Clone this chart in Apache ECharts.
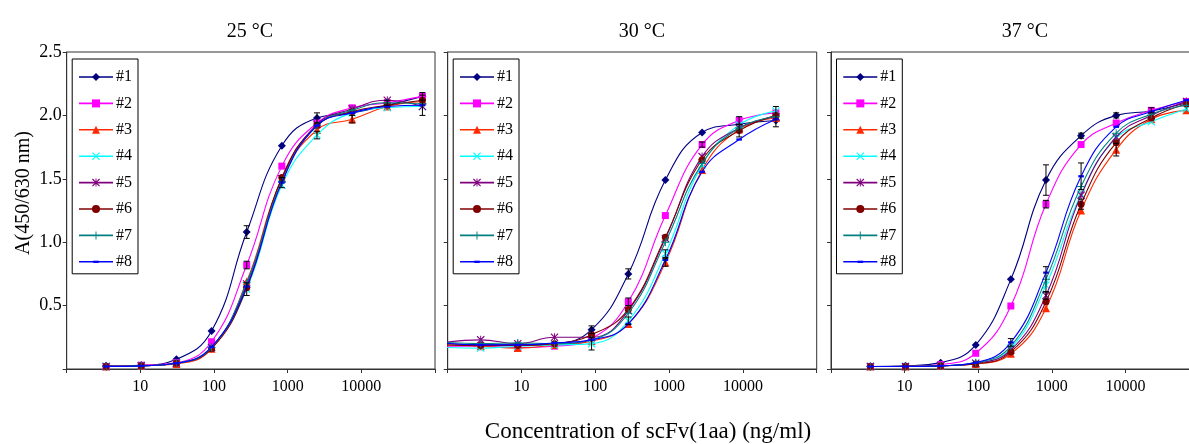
<!DOCTYPE html>
<html>
<head>
<meta charset="utf-8">
<script src="https://cdn.jsdelivr.net/npm/echarts@6/dist/echarts.min.js"></script>
<style>
  html, body { margin: 0; padding: 0; background: #fff; }
  #chart { width: 1189px; height: 444px; }
</style>
</head>
<body>
<div id="chart"></div>
<script>
// ---- data -------------------------------------------------------------
const seriesNames = ['#1', '#2', '#3', '#4', '#5', '#6', '#7', '#8'];
const seriesColors = ['#000080', '#FF00FF', '#FF2A00', '#00FFFF', '#800080', '#800000', '#008080', '#0000FF'];
const panelTitles = ['25 \u00B0C', '30 \u00B0C', '37 \u00B0C'];
const xTickLabels = ['10', '100', '1000', '10000'];
const yTickLabels = ['0.5', '1.0', '1.5', '2.0', '2.5'];

// scFv concentrations (ng/ml): three-fold series (25 and 37 °C), half-log series (30 °C)
const conc3fold = [3.43, 10.29, 30.86, 92.59, 277.8, 833.3, 2500, 7500, 22500, 67500];
const concHalfLog = [0.9, 2.8, 8.9, 28, 89, 280, 890, 2800, 8900, 28000];

// A(450/630 nm), one row per clone #1..#8
const abs25 = [
  [0.025, 0.03, 0.077, 0.30, 1.08, 1.76, 1.98, 2.02, 2.08, 2.15],
  [0.02, 0.03, 0.05, 0.215, 0.82, 1.60, 1.94, 2.06, 2.10, 2.15],
  [0.02, 0.025, 0.04, 0.16, 0.69, 1.50, 1.885, 1.97, 2.07, 2.11],
  [0.02, 0.025, 0.045, 0.17, 0.63, 1.45, 1.845, 2.02, 2.06, 2.07],
  [0.02, 0.025, 0.045, 0.17, 0.67, 1.50, 1.93, 2.05, 2.12, 2.07],
  [0.02, 0.025, 0.045, 0.16, 0.64, 1.51, 1.92, 2.03, 2.08, 2.12],
  [0.02, 0.025, 0.045, 0.17, 0.68, 1.48, 1.92, 2.04, 2.10, 2.09],
  [0.02, 0.025, 0.045, 0.175, 0.65, 1.47, 1.92, 2.02, 2.07, 2.08]
];
const abs30 = [
  [0.20, 0.19, 0.19, 0.20, 0.31, 0.75, 1.49, 1.865, 1.93, 1.96],
  [0.18, 0.18, 0.17, 0.18, 0.24, 0.53, 1.21, 1.77, 1.96, 2.02],
  [0.19, 0.18, 0.165, 0.19, 0.22, 0.355, 0.84, 1.57, 1.89, 1.98],
  [0.17, 0.165, 0.18, 0.19, 0.20, 0.38, 0.91, 1.61, 1.925, 2.035],
  [0.21, 0.23, 0.20, 0.25, 0.25, 0.46, 1.03, 1.675, 1.90, 1.99],
  [0.19, 0.185, 0.185, 0.20, 0.27, 0.47, 1.04, 1.65, 1.88, 2.00],
  [0.21, 0.20, 0.205, 0.20, 0.23, 0.44, 1.00, 1.62, 1.90, 1.99],
  [0.205, 0.19, 0.19, 0.205, 0.23, 0.355, 0.86, 1.555, 1.81, 1.97]
];
const abs37 = [
  [0.02, 0.025, 0.05, 0.19, 0.707, 1.49, 1.84, 2.00, 2.035, 2.10],
  [0.02, 0.02, 0.035, 0.124, 0.497, 1.30, 1.77, 1.94, 2.04, 2.11],
  [0.02, 0.02, 0.025, 0.04, 0.12, 0.48, 1.25, 1.73, 1.97, 2.04],
  [0.02, 0.02, 0.025, 0.045, 0.165, 0.66, 1.38, 1.82, 1.95, 2.05],
  [0.02, 0.02, 0.025, 0.045, 0.15, 0.58, 1.37, 1.83, 2.00, 2.11],
  [0.02, 0.02, 0.025, 0.04, 0.135, 0.53, 1.30, 1.785, 1.98, 2.09],
  [0.02, 0.02, 0.025, 0.05, 0.18, 0.707, 1.44, 1.86, 2.01, 2.08],
  [0.02, 0.02, 0.025, 0.05, 0.21, 0.76, 1.52, 1.91, 2.03, 2.12]
];

// standard deviations: [clone index, point index, sd]
const err25 = [[0, 4, 0.05], [1, 4, 0.03], [3, 4, 0.05], [7, 5, 0.04], [0, 6, 0.04],
               [3, 6, 0.03], [2, 7, 0.03], [1, 8, 0.02], [7, 9, 0.08], [1, 9, 0.03]];
const err30 = [[0, 4, 0.03], [3, 4, 0.05], [0, 5, 0.04], [1, 5, 0.03], [3, 5, 0.03],
               [3, 6, 0.03], [2, 6, 0.03], [1, 7, 0.02], [5, 8, 0.05], [1, 8, 0.03], [6, 9, 0.08]];
const err37 = [[7, 4, 0.03], [0, 5, 0.12], [1, 5, 0.03], [6, 5, 0.10], [4, 5, 0.03],
               [7, 6, 0.105], [0, 6, 0.02], [5, 6, 0.04], [0, 7, 0.02], [2, 7, 0.05], [1, 8, 0.02]];

// ---- styling ----------------------------------------------------------
const FONT = '"Liberation Serif", "Times New Roman", serif';
const AXIS_COLOR = '#333';

const markerShapes = [
  'diamond',
  'rect',
  'triangle',
  'path://M0,1 L1,0 L5,4 L9,0 L10,1 L6,5 L10,9 L9,10 L5,6 L1,10 L0,9 L4,5 Z',
  'path://M0,1 L1,0 L5,4 L9,0 L10,1 L6,5 L10,9 L9,10 L5,6 L1,10 L0,9 L4,5 Z M4.4,0 L5.6,0 L5.6,10 L4.4,10 Z',
  'circle',
  'path://M4.4,0 L5.6,0 L5.6,4.4 L10,4.4 L10,5.6 L5.6,5.6 L5.6,10 L4.4,10 L4.4,5.6 L0,5.6 L0,4.4 L4.4,4.4 Z',
  'path://M0,0 M10,10 M1.5,3.6 L8.5,3.6 L8.5,6.4 L1.5,6.4 Z'
];
const markerSizes = [8, 7, 8, 8, 8, 7, 8, 8];

const panels = [
  { conc: conc3fold, abs: abs25, err: err25, left: 66.7, width: 368.3, titleX: 245 },
  { conc: concHalfLog, abs: abs30, err: err30, left: 447.7, width: 369, titleX: 637 },
  { conc: conc3fold, abs: abs37, err: err37, left: 831, width: 368, titleX: 1020 }
];
const PLOT_TOP = 52, PLOT_HEIGHT = 317;

function renderErrorBar(params, api) {
  const x = api.value(0);
  const lo = api.coord([x, api.value(1)]);
  const hi = api.coord([x, api.value(2)]);
  const half = 3;
  const style = { stroke: '#000', lineWidth: 1 };
  return {
    type: 'group',
    children: [
      { type: 'line', shape: { x1: lo[0], y1: lo[1], x2: hi[0], y2: hi[1] }, style },
      { type: 'line', shape: { x1: lo[0] - half, y1: lo[1], x2: lo[0] + half, y2: lo[1] }, style },
      { type: 'line', shape: { x1: hi[0] - half, y1: hi[1], x2: hi[0] + half, y2: hi[1] }, style }
    ]
  };
}

const grid = [], xAxis = [], yAxis = [], series = [], legend = [], title = [];

panels.forEach((p, pi) => {
  grid.push({
    left: p.left, top: PLOT_TOP, width: p.width, height: PLOT_HEIGHT,
    outerBoundsMode: 'none', containLabel: false,
    show: true, borderColor: AXIS_COLOR, borderWidth: 1, backgroundColor: '#fff'
  });
  xAxis.push({
    type: 'log', logBase: 10, min: 1, max: 100000, gridIndex: pi,
    axisLine: { lineStyle: { color: AXIS_COLOR, width: 1 } },
    axisTick: { show: true, length: 4, lineStyle: { color: AXIS_COLOR } },
    splitLine: { show: false },
    minorTick: { show: false },
    axisLabel: {
      fontFamily: FONT, fontSize: 16, color: '#000', margin: 10,
      formatter: v => { const s = String(Math.round(v)); return xTickLabels.includes(s) ? s : ''; }
    }
  });
  yAxis.push({
    type: 'value', min: 0, max: 2.5, interval: 0.5, gridIndex: pi,
    axisLine: { show: true, lineStyle: { color: AXIS_COLOR, width: 1 } },
    axisTick: { show: true, length: 4, lineStyle: { color: AXIS_COLOR } },
    splitLine: { show: false },
    axisLabel: {
      show: pi === 0, fontFamily: FONT, fontSize: 18, color: '#000', margin: 5,
      formatter: v => { const s = v.toFixed(1); return yTickLabels.includes(s) ? s : ''; }
    }
  });
  title.push({
    text: panelTitles[pi], left: p.titleX, top: 17, textAlign: 'center',
    textStyle: { fontFamily: FONT, fontSize: 20, fontWeight: 'normal', color: '#000' }
  });
  seriesNames.forEach((name, si) => {
    series.push({
      type: 'line', name, xAxisIndex: pi, yAxisIndex: pi,
      data: p.conc.map((c, k) => [c, p.abs[si][k]]),
      smooth: 0.45,
      symbol: markerShapes[si], symbolSize: markerSizes[si],
      showAllSymbol: true,
      lineStyle: { color: seriesColors[si], width: 1.1 },
      itemStyle: { color: seriesColors[si] },
      z: 3 + si * 0.01,
      emphasis: { disabled: true }
    });
  });
  series.push({
    type: 'custom', name: 'sd', xAxisIndex: pi, yAxisIndex: pi,
    renderItem: renderErrorBar,
    encode: { x: 0, y: [1, 2] },
    data: p.err.map(([si, k, sd]) => {
      const v = p.abs[si][k];
      return [p.conc[k], v - sd, v + sd];
    }),
    z: 4
  });
  legend.push({
    data: seriesNames, orient: 'vertical',
    left: p.left + 5.5, top: 59,
    backgroundColor: '#fff', borderColor: '#000', borderWidth: 1,
    padding: [10, 6, 4, 6],
    itemWidth: 34, itemHeight: 10, itemGap: 10.4,
    selectedMode: false,
    lineStyle: { width: 1.6 },
    textStyle: { fontFamily: FONT, fontSize: 16, color: '#000', lineHeight: 16, padding: [0, 0, 0, -2] }
  });
});

const chart = echarts.init(document.getElementById('chart'), null, { renderer: 'canvas' });
chart.setOption({
  animation: false,
  backgroundColor: '#fff',
  title,
  grid, xAxis, yAxis, series, legend,
  graphic: [
    {
      type: 'text', x: 648, y: 420,
      style: { text: 'Concentration of scFv(1aa) (ng/ml)', font: '23px ' + FONT, fill: '#000', align: 'center', verticalAlign: 'top' }
    },
    {
      type: 'text', x: 24, y: 193, rotation: Math.PI / 2,
      style: { text: 'A(450/630 nm)', font: '20px ' + FONT, fill: '#000', align: 'center', verticalAlign: 'middle' }
    }
  ]
});
</script>
</body>
</html>
